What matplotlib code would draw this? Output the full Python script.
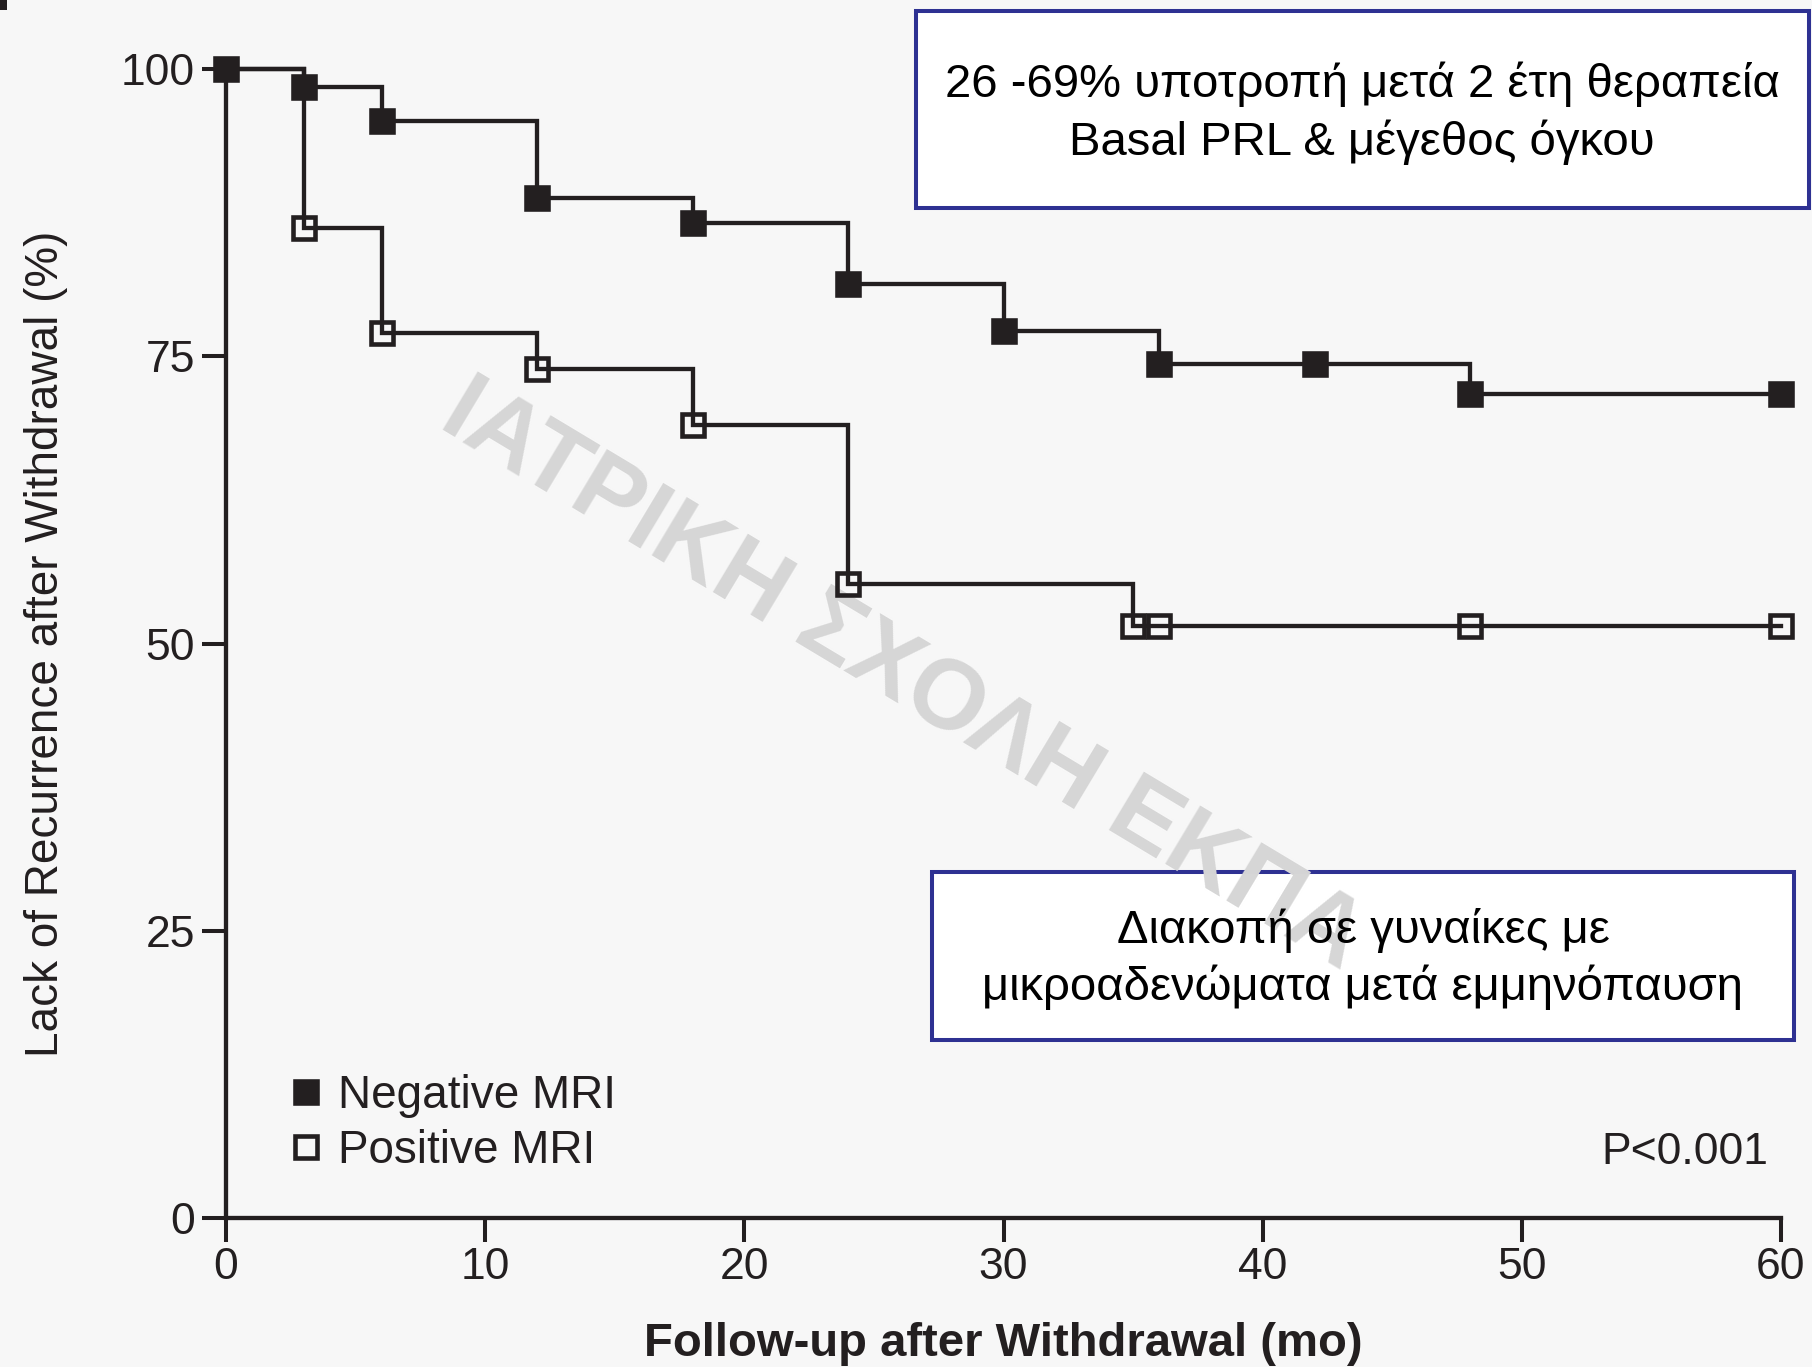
import numpy as np
import matplotlib
matplotlib.use("Agg")
import matplotlib.pyplot as plt
from matplotlib.patches import Rectangle
from matplotlib.lines import Line2D

# Kaplan-Meier style step data (months, % without recurrence)
neg_event_months = [0, 3, 6, 12, 18, 24, 30, 36, 48]
neg_survival = [100, 98.4, 95.5, 88.8, 86.6, 81.3, 77.2, 74.3, 71.7]
neg_marker_months = [0, 3, 6, 12, 18, 24, 30, 36, 42, 48, 60]

pos_event_months = [0, 3, 6, 12, 18, 24, 35]
pos_survival = [100, 86.2, 77.0, 73.9, 69.0, 55.2, 51.5]
pos_marker_months = [3, 6, 12, 18, 24, 35, 36, 48, 60]

series_labels = ["Negative MRI", "Positive MRI"]
x_ticks = [0, 10, 20, 30, 40, 50, 60]
y_ticks = [0, 25, 50, 75, 100]
x_label = "Follow-up after Withdrawal (mo)"
y_label = "Lack of Recurrence after Withdrawal (%)"
p_text = "P<0.001"
note_top = "26 -69% υποτροπή μετά 2 έτη θεραπεία\nBasal PRL & μέγεθος όγκου"
note_bottom = "Διακοπή σε γυναίκες με\nμικροαδενώματα μετά εμμηνόπαυση"
watermark = "ΙΑΤΡΙΚΗ ΣΧΟΛΗ ΕΚΠΑ"
x_max = 60

INK = "#231f20"
NAVY = "#2e3192"
BG = "#f7f7f7"

plt.rcParams["font.family"] = ["Liberation Sans", "DejaVu Sans"]

W, H = 1812, 1367
fig = plt.figure(figsize=(W / 100, H / 100), dpi=100, facecolor=BG)


def fx(px):
    return px / W


def fy(py):
    return 1 - py / H


ax = fig.add_axes([fx(226), fy(1218), fx(1781) - fx(226), fy(69) - fy(1218)])
ax.set_facecolor("none")
ax.set_xlim(0, x_max)
ax.set_ylim(0, 100)


def step_value(events, values, t):
    i = np.searchsorted(events, t, side="right") - 1
    return np.asarray(values)[i]


for events, values, marks, face in [
    (neg_event_months, neg_survival, neg_marker_months, INK),
    (pos_event_months, pos_survival, pos_marker_months, "none"),
]:
    xs = list(events) + [x_max]
    ys = list(values) + [values[-1]]
    ax.step(xs, ys, where="post", color=INK, lw=3.1, zorder=3,
            solid_joinstyle="miter", clip_on=False)
    my = step_value(events, values, np.array(marks))
    ax.plot(marks, my, ls="none", marker="s", ms=16, mew=3.3,
            mec=INK, mfc=face, zorder=4, clip_on=False)

# axes styling
for side in ("top", "right"):
    ax.spines[side].set_visible(False)
for side in ("left", "bottom"):
    ax.spines[side].set_linewidth(3.1)
    ax.spines[side].set_color(INK)
ax.set_xticks(x_ticks)
ax.set_yticks(y_ticks)
ax.tick_params(axis="both", direction="out", length=17.3, width=2.9,
               color=INK, labelsize=32, labelcolor=INK)
ax.tick_params(axis="y", pad=5)
ax.tick_params(axis="x", pad=3.5)

ax.set_xlabel(x_label, fontsize=34, fontweight="bold", color=INK, va="baseline")
ax.xaxis.set_label_coords(0.5, (1218 - 1356) / 1149)
ax.set_ylabel(y_label, fontsize=33, color=INK, va="baseline")
ax.yaxis.set_label_coords((58 - 226) / 1555, 0.5)

# legend
handles = [
    Line2D([], [], ls="none", marker="s", ms=16, mew=3.3, mec=INK, mfc=INK),
    Line2D([], [], ls="none", marker="s", ms=16, mew=3.3, mec=INK, mfc="none"),
]
leg = ax.legend(handles, series_labels, loc="upper left",
                bbox_to_anchor=(fx(284), fy(1074)), bbox_transform=fig.transFigure,
                frameon=False, fontsize=33, handlelength=0.97, handletextpad=0.2,
                labelspacing=0.25, borderpad=0, borderaxespad=0)
for t in leg.get_texts():
    t.set_color(INK)

ax.text(fx(1768), fy(1164), p_text, transform=fig.transFigure, ha="right",
        va="baseline", fontsize=32, color=INK)

# annotation boxes
ax.add_patch(Rectangle((fx(916), fy(208)), fx(1809) - fx(916), fy(11) - fy(208),
                       transform=fig.transFigure, fc="white", ec=NAVY, lw=2.9,
                       zorder=1, clip_on=False))
ax.add_patch(Rectangle((fx(932), fy(1040)), fx(1794) - fx(932), fy(872) - fy(1040),
                       transform=fig.transFigure, fc="white", ec=NAVY, lw=2.9,
                       zorder=1, clip_on=False))

# watermark
ax.text(fx(903), fy(676), watermark, transform=fig.transFigure, ha="center",
        va="center", rotation=-31, rotation_mode="anchor", fontsize=71,
        fontweight="bold", color="#d6d6d6", zorder=2, clip_on=False)

ax.text(fx(1362), fy(113), note_top, transform=fig.transFigure, ha="center",
        va="center", multialignment="center", fontsize=34, color="black",
        linespacing=1.36, zorder=5)
ax.text(fx(1363), fy(959), note_bottom, transform=fig.transFigure, ha="center",
        va="center", multialignment="center", fontsize=34, color="black",
        linespacing=1.3, zorder=5)

# small corner fragment
fig.add_artist(Rectangle((0, fy(10)), fx(7), fy(0) - fy(10),
                         transform=fig.transFigure, fc=INK, ec="none"))

fig.savefig("out.png", dpi=100, facecolor=BG)
